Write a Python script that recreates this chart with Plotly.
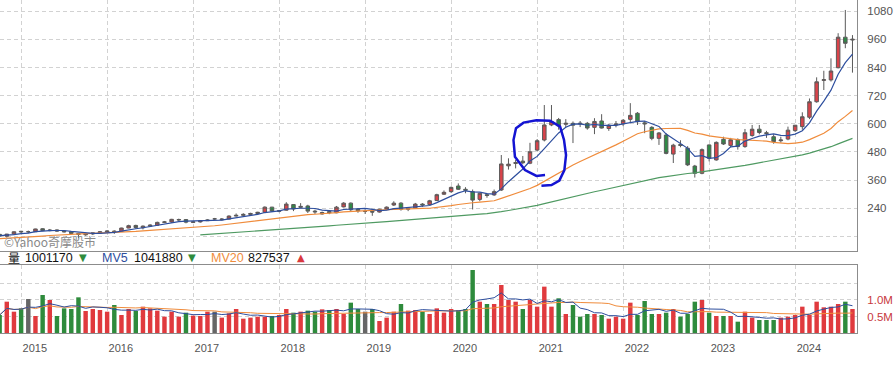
import plotly.graph_objects as go
import pandas as pd

# ---------------- data (monthly, Sep 2014 .. Aug 2024) ----------------
years = ['2015', '2016', '2017', '2018', '2019', '2020', '2021', '2022', '2023', '2024']

open_ = [129, 121, 130, 142, 140, 140, 153, 145, 148, 143, 140, 133,
         127, 131, 135, 139, 143, 141, 156, 167, 157, 164, 168, 180,
         182, 190, 192, 180, 182, 187, 195, 191, 194, 207, 210, 214,
         218, 223, 245, 227, 232, 256, 244, 250, 228, 216, 226, 221,
         246, 262, 236, 227, 227, 224, 236, 254, 262, 236, 242, 258,
         256, 273, 300, 311, 335, 321, 311, 278, 298, 297, 318, 421,
         431, 441, 432, 488, 531, 595, 618, 598, 602, 603, 602, 585,
         612, 580, 595, 600, 619, 645, 604, 585, 538, 552, 471, 512,
         496, 420, 389, 510, 446, 534, 508, 532, 503, 550, 577, 562,
         545, 528, 535, 571, 588, 628, 694, 785, 787, 839, 969, 957]
high = [131, 131, 142, 144, 145, 153, 155, 152, 150, 145, 141, 135,
        134, 136, 143, 146, 146, 157, 170, 170, 167, 172, 183, 186,
        195, 196, 194, 185, 190, 193, 199, 198, 210, 218, 219, 221,
        225, 248, 246, 233, 266, 258, 262, 255, 234, 226, 231, 250,
        266, 265, 240, 236, 229, 238, 248, 270, 266, 245, 263, 262,
        276, 302, 316, 333, 346, 330, 320, 306, 304, 320, 467, 453,
        446, 463, 519, 535, 680, 680, 625, 620, 610, 612, 608, 624,
        641, 600, 612, 620, 688, 650, 612, 590, 565, 560, 515, 530,
        505, 425, 495, 512, 525, 545, 540, 538, 578, 595, 595, 570,
        555, 545, 588, 595, 649, 708, 798, 826, 879, 986, 1085, 978]
low = [120, 115, 128, 133, 134, 139, 143, 142, 140, 137, 130, 112,
       123, 126, 132, 137, 131, 139, 155, 153, 150, 160, 166, 177,
       178, 184, 176, 177, 179, 186, 191, 188, 193, 205, 207, 210,
       213, 222, 224, 223, 230, 228, 240, 220, 216, 213, 215, 219,
       244, 225, 221, 216, 208, 222, 233, 250, 230, 228, 240, 246,
       254, 271, 297, 306, 318, 304, 235, 270, 285, 293, 314, 405,
       410, 428, 428, 482, 525, 590, 575, 585, 518, 586, 575, 556,
       580, 570, 585, 590, 605, 595, 560, 530, 510, 470, 433, 500,
       420, 371, 385, 440, 443, 510, 500, 490, 498, 545, 555, 540,
       515, 520, 530, 565, 575, 620, 690, 744, 780, 836, 922, 818]
close = [122, 130, 140, 140, 140, 152, 145, 147, 143, 140, 133, 129,
         130, 135, 140, 143, 141, 156, 166, 158, 164, 168, 180, 182,
         193, 192, 181, 182, 187, 190, 195, 194, 207, 210, 214, 218,
         223, 245, 228, 230, 258, 237, 248, 228, 225, 222, 221, 245,
         262, 234, 229, 227, 224, 236, 245, 262, 236, 240, 258, 254,
         272, 298, 308, 329, 321, 317, 275, 304, 295, 311, 429, 428,
         435, 434, 481, 528, 595, 610, 591, 602, 594, 600, 582, 610,
         582, 594, 599, 615, 636, 609, 600, 538, 561, 474, 509, 508,
         425, 389, 490, 453, 521, 514, 532, 503, 562, 577, 563, 559,
         524, 531, 573, 594, 630, 694, 779, 788, 825, 969, 943, 960]
# monthly volume (lots)
volume = [545000, 949000, 646000, 747000, 1030000, 515000, 1152000, 1000000, 515000, 747000, 727000, 1081000,
          667000, 727000, 697000, 646000, 848000, 545000, 727000, 667000, 798000, 747000, 677000, 495000,
          646000, 495000, 616000, 525000, 515000, 646000, 646000, 465000, 596000, 727000, 434000, 465000,
          495000, 495000, 515000, 545000, 727000, 616000, 646000, 677000, 646000, 717000, 697000, 727000,
          576000, 919000, 727000, 646000, 727000, 364000, 465000, 646000, 879000, 677000, 697000, 646000,
          576000, 747000, 616000, 727000, 697000, 727000, 1909000, 949000, 879000, 879000, 1455000, 1000000,
          949000, 727000, 1000000, 798000, 1404000, 798000, 1051000, 576000, 848000, 495000, 576000, 576000,
          545000, 434000, 495000, 434000, 919000, 545000, 970000, 576000, 576000, 616000, 727000, 495000,
          576000, 949000, 1000000, 616000, 515000, 515000, 515000, 343000, 646000, 465000, 394000, 394000,
          394000, 465000, 495000, 545000, 798000, 545000, 949000, 778000, 798000, 879000, 949000, 727000]
# closes before the visible window (Feb 2012 .. Aug 2014), only feed the moving averages
close_history = [83, 88, 88, 82, 81, 80, 84, 91, 92, 96, 97,
                 103, 103, 101, 107, 110, 109, 103, 101, 102, 108, 105, 105,
                 103, 107, 119, 121, 122, 127, 120, 128]

legend_vol = '1001170'
legend_mv5 = '1041880'
legend_mv20 = '827537'

price_ticks = [120, 240, 360, 480, 600, 720, 840, 960, 1080]
price_labels = ['', '240', '360', '480', '600', '720', '840', '960', '1080']
vol_ticks = [500000, 1000000, 1500000]
vol_labels = ['0.5M', '1.0M', '']

# ---------------- derived ----------------
n = len(close)
x = list(range(n))
full = pd.Series(close_history + close, dtype=float)
h = len(close_history)
mv5 = full.rolling(5).mean().iloc[h:].tolist()
mv20 = full.rolling(20).mean().iloc[h:].tolist()
mv60 = full.rolling(60).mean().iloc[h:].tolist()
vs = pd.Series(volume, dtype=float)
vmv5 = vs.rolling(5, min_periods=1).mean().tolist()
vmv20 = vs.rolling(20, min_periods=1).mean().tolist()

RED = '#d9434a'
GREEN = '#2f8a46'
VRED = '#e03a3e'
VGREEN = '#2e8b3c'
GRAYBAR = '#666666'
vcolors = [VRED if c > o else (VGREEN if c < o else GRAYBAR) for o, c in zip(open_, close)]

jan_index = [i for i in range(n) if (i - 4) % 12 == 0]
grid_x = [i - 0.9 for i in jan_index]

BLUE = '#2d4e9e'
ORANGE = '#f08c3c'
MGREEN = '#4f9a62'
GRID = '#d2d2d2'
BORDER = '#8c8c8c'
FONT = 'Liberation Sans, Arial, sans-serif'
CJK = 'Noto Sans CJK TC, Liberation Sans, sans-serif'

fig = go.Figure()
fig.add_trace(go.Candlestick(
    x=x, open=open_, high=high, low=low, close=close,
    increasing=dict(line=dict(color='#5a5a5a', width=1), fillcolor=RED),
    decreasing=dict(line=dict(color='#5a5a5a', width=1), fillcolor=GREEN),
    whiskerwidth=0, hoverinfo='skip', xaxis='x', yaxis='y'))
fig.add_trace(go.Scatter(x=x, y=mv60, mode='lines', line=dict(color=MGREEN, width=1.2),
                         hoverinfo='skip', xaxis='x', yaxis='y'))
fig.add_trace(go.Scatter(x=x, y=mv20, mode='lines', line=dict(color=ORANGE, width=1.2),
                         hoverinfo='skip', xaxis='x', yaxis='y'))
fig.add_trace(go.Scatter(x=x, y=mv5, mode='lines', line=dict(color=BLUE, width=1.2),
                         hoverinfo='skip', xaxis='x', yaxis='y'))

fig.add_trace(go.Bar(x=x, y=volume, marker=dict(color=vcolors, line=dict(width=0)), width=0.62,
                     hoverinfo='skip', xaxis='x2', yaxis='y2'))
fig.add_trace(go.Scatter(x=x, y=vmv20, mode='lines', line=dict(color=ORANGE, width=1),
                         hoverinfo='skip', xaxis='x2', yaxis='y2'))
fig.add_trace(go.Scatter(x=x, y=vmv5, mode='lines', line=dict(color=BLUE, width=1),
                         hoverinfo='skip', xaxis='x2', yaxis='y2'))

xr = [0.052, 119.63]
common_x = dict(range=xr, tickvals=grid_x, showgrid=True, gridcolor=GRID, griddash='4px,3px',
                gridwidth=1, zeroline=False, ticks='', showline=True, linecolor=BORDER, linewidth=1,
                fixedrange=True)

fig.update_layout(
    width=896, height=369,
    margin=dict(l=0, r=39, t=0, b=36),
    paper_bgcolor='white', plot_bgcolor='white',
    showlegend=False,
    font=dict(family=FONT, size=11, color='#555555'),
    xaxis=dict(domain=[0, 1], anchor='y', showticklabels=False,
               rangeslider=dict(visible=False), **common_x),
    yaxis=dict(domain=[0.2471, 1], anchor='x', side='right', range=[59.3, 1127.5],
               tickvals=price_ticks, ticktext=price_labels, showgrid=True, gridcolor=GRID,
               griddash='4px,3px', zeroline=False, ticks='', showline=True, linecolor=BORDER,
               linewidth=1, ticklabelstandoff=7, tickfont=dict(size=11.5, color='#555555'),
               fixedrange=True),
    xaxis2=dict(domain=[0, 1], anchor='y2', ticktext=years, ticklabelshift=13,
                ticklabelstandoff=5,
                mirror=True, tickfont=dict(size=11, color='#555555'), **common_x),
    yaxis2=dict(domain=[0, 0.2042], anchor='x2', side='right', range=[0, 2060000],
                tickvals=vol_ticks, ticktext=vol_labels, showgrid=True, gridcolor=GRID,
                griddash='4px,3px', zeroline=False, ticks='', showline=True, mirror=True,
                linecolor=BORDER, linewidth=1, ticklabelstandoff=7,
                tickfont=dict(size=11.5, color='#c8383c'), fixedrange=True),
    bargap=0.35,
)

PW = 857.0
def px(v):
    return v / PW

ly = 0.2262
segments = [
    ('量', 7, '#111111', CJK),
    (legend_vol, 24, '#111111', FONT),
    ('▼', 78, '#2e8b3c', 'DejaVu Sans'),
    ('MV5', 101, BLUE, FONT),
    (legend_mv5, 133, '#111111', FONT),
    ('▼', 187, '#2e8b3c', 'DejaVu Sans'),
    ('MV20', 210, ORANGE, FONT),
    (legend_mv20, 247, '#111111', FONT),
    ('▲', 296, '#d9383e', 'DejaVu Sans'),
]
for txt, xp, col, fam in segments:
    fig.add_annotation(text=txt, x=px(xp), y=ly, xref='paper', yref='paper',
                       xanchor='left', yanchor='middle', showarrow=False,
                       font=dict(size=12 if fam == CJK else (12.5 if fam != 'DejaVu Sans' else 10),
                                 color=col, family=fam),
                       borderpad=0)

fig.add_annotation(text='©Yahoo奇摩股市', x=px(3), y=0.2755, xref='paper', yref='paper',
                   xanchor='left', yanchor='middle', showarrow=False,
                   font=dict(size=12, color='#8a8a8a', family=CJK), borderpad=0)

# hand-drawn highlight loop around late-2020 / early-2021 candles
loop = [(76.1, 382), (74.9, 378), (73.3, 403), (71.9, 460), (71.7, 531), (72.05, 581),
        (73.1, 605), (74.9, 615), (76.8, 613), (78.2, 588), (78.75, 531), (79.03, 467),
        (78.8, 403), (78.1, 358), (77.0, 339), (75.6, 336)]
path = 'M ' + ' L '.join(f'{a},{b}' for a, b in loop)
fig.add_shape(type='path', path=path, xref='x', yref='y',
              line=dict(color='#1414d2', width=2.5))

fig.write_html('out.html', config={'displayModeBar': False, 'staticPlot': True},
               post_script="document.body.style.margin='0';")
